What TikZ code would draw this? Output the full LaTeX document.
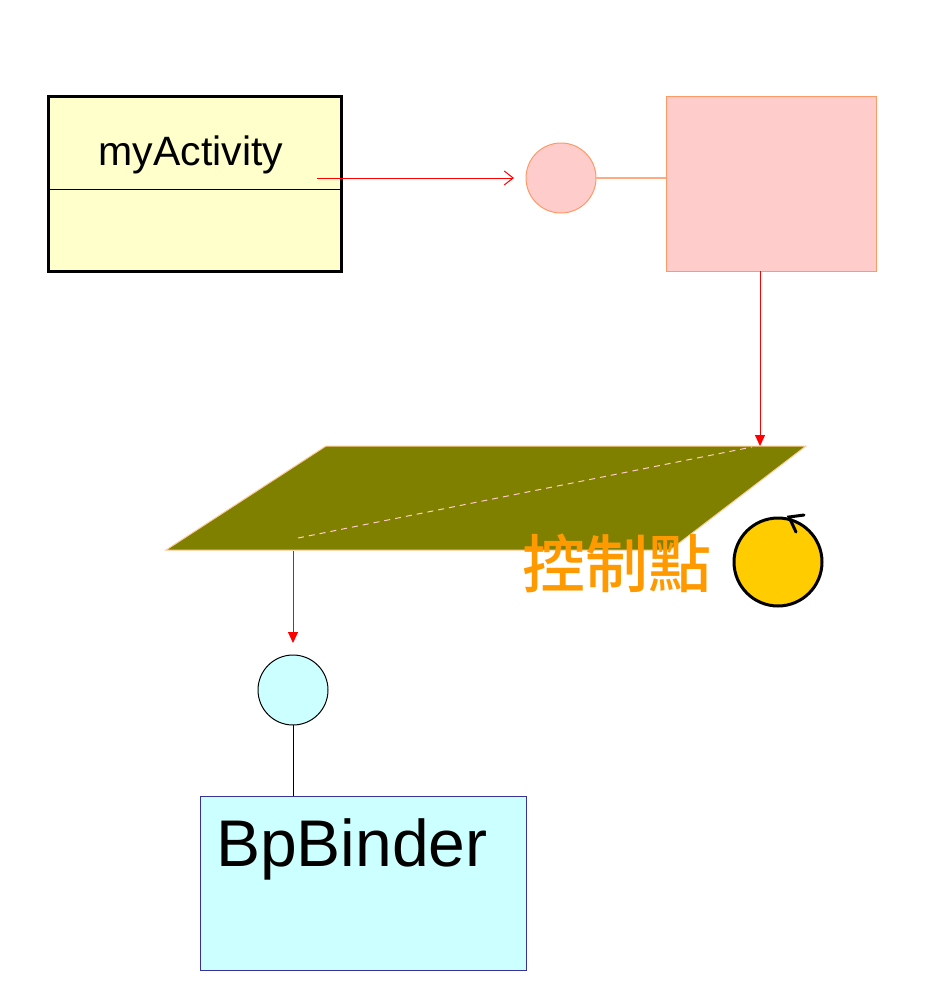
\documentclass[tikz,border=0pt]{standalone}
\usepackage{fontspec}
\setmainfont{Liberation Sans}
\newfontfamily\cjk{Noto Sans CJK TC Medium}
\usetikzlibrary{arrows.meta}
\definecolor{lightyellow}{HTML}{FFFFCC}
\definecolor{pinkfill}{HTML}{FFCCCC}
\definecolor{pinkline}{HTML}{FF9966}
\definecolor{pinkconn}{HTML}{FFAA80}
\definecolor{olivefill}{HTML}{808000}
\definecolor{peach}{HTML}{FFCC99}
\definecolor{cyanfill}{HTML}{CCFFFF}
\definecolor{navyline}{HTML}{333399}
\definecolor{ctrlorange}{HTML}{FF9900}
\definecolor{goldfill}{HTML}{FFCC00}
\tikzset{
  redarrow/.style={draw=red, line width=1pt},
  boxbase/.style={rectangle, inner sep=0pt, outer sep=0pt},
  lolli/.style={circle, inner sep=0pt, outer sep=0pt, minimum size=70pt, line width=1pt}
}
\begin{document}
\begin{tikzpicture}[x=1pt,y=-1pt]
\useasboundingbox (0,0) rectangle (926,1004);
% myActivity class box
\node[boxbase, draw=black, line width=3pt, fill=lightyellow, minimum width=293pt, minimum height=175pt] (act) at (194.5,183.5) {};
\draw[line width=0.8pt] (act.west |- 0,189) coordinate (dl) -- (act.east |- 0,189) coordinate (dr);
\node[font=\fontsize{41}{41}\selectfont] (actlbl) at (191,155) {myActivity};
\coordinate (actout) at (317,178);
% pink interface
\node[lolli, draw=pinkline, fill=pinkfill] (pc) at (561,178) {};
\node[boxbase, draw=pinkline, line width=1pt, fill=pinkfill, minimum width=210pt, minimum height=175pt] (pbox) at (771,183.5) {};
\draw[draw=pinkconn, line width=1.2pt] (pc.east) -- (pbox.west |- pc.east);
\coordinate (arrend) at (514,178);
\draw[redarrow, -{Straight Barb[length=9pt,width=14pt]}] (actout) -- (arrend);
% parallelogram
\coordinate (pa) at (326,446);
\coordinate (pb) at (806,446);
\coordinate (pcc) at (670,550);
\coordinate (pd) at (166,550);
\draw[draw=peach, line width=1pt, fill=olivefill] (pa) -- (pb) -- (pcc) -- (pd) -- cycle;
\coordinate (dash1) at (298,538);
\coordinate (dash2) at (752,447);
\draw[draw=pinkfill, line width=1pt, dash pattern=on 6pt off 5pt] (dash1) -- (dash2);
\coordinate (ptop) at (760,446);
\draw[redarrow, -{Triangle[length=11pt,width=10pt]}] (pbox.south -| ptop) -- (ptop);
\coordinate (pbot) at (293,551);
% cyan interface
\node[lolli, draw=black, fill=cyanfill] (cc) at (293,690) {};
\coordinate (cctop) at (293,643);
\draw[redarrow, -{Triangle[length=11pt,width=10pt]}] (pbot) -- (cctop);
\node[boxbase, draw=navyline, line width=1pt, fill=cyanfill, minimum width=326pt, minimum height=174pt] (bb) at (363,883) {};
\draw[line width=1pt] (cc.south) -- (bb.north -| cc.south);
\node[anchor=base west, inner sep=0pt, font=\fontsize{66}{66}\selectfont] (bblbl) at (216,866) {BpBinder};
% control point
\node[font=\cjk\fontsize{63}{63}\selectfont, text=ctrlorange, inner sep=0pt] (ctrl) at (617,563) {控制點};
\node[circle, draw=black, line width=3pt, fill=goldfill, minimum size=88pt, inner sep=0pt] (gc) at (778,562) {};
\coordinate (tk1) at (804,515);
\coordinate (tk2) at (796,532);
\coordinate (tkc) at (789,517);
\draw[line width=3pt, line cap=round] (tk1) -- (tkc) -- (tk2);
\end{tikzpicture}
\end{document}
